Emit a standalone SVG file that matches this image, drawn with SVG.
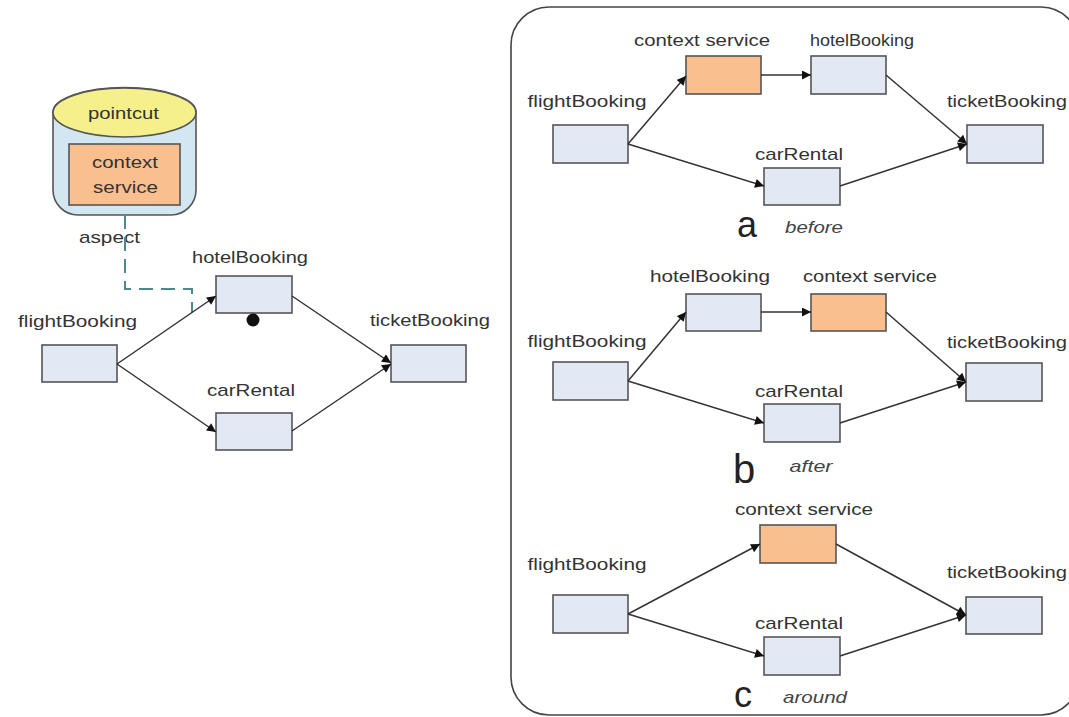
<svg xmlns="http://www.w3.org/2000/svg" width="1069" height="717" viewBox="0 0 1069 717">
<style>
text{font-family:"Liberation Sans",Arial,sans-serif;font-size:17px;fill:#333;text-anchor:middle}
.it{font-style:italic;fill:#444}
.big{font-size:36px;fill:#222}
.node{fill:#e3e8f5;stroke:#555;stroke-width:1.6}
.ctx{fill:#f9bf8f;stroke:#555;stroke-width:1.6}
.edge{fill:none;stroke:#333;stroke-width:1.5;marker-end:url(#arr)}
</style>
<defs>
<marker id="arr" viewBox="0 0 10 10" refX="10" refY="5" markerWidth="10" markerHeight="9" markerUnits="userSpaceOnUse" orient="auto"><path d="M0,0 L10,5 L0,10 z" fill="#111"/></marker>
</defs>
<rect x="0" y="0" width="1069" height="717" fill="#fff"/>

<!-- right panel frame -->
<rect id="panel" x="511" y="7" width="568" height="708" rx="38" ry="38" fill="none" stroke="#444" stroke-width="1.6"/>

<!-- LEFT diagram -->
<g id="aspect-cylinder">
<path d="M53,112 A71.5,24.5 0 0,1 196,112 V190 A25,25 0 0,1 171,215 H78 A25,25 0 0,1 53,190 Z" fill="#d3e7f3" stroke="#555" stroke-width="1.6"/>
<ellipse cx="124.5" cy="112.5" rx="71.5" ry="24.5" fill="#f5f08c" stroke="#555" stroke-width="1.6"/>
<text x="123.5" y="119" textLength="71" lengthAdjust="spacingAndGlyphs">pointcut</text>
<rect class="ctx" x="69" y="144" width="111" height="61"/>
<text x="125" y="168" textLength="66" lengthAdjust="spacingAndGlyphs">context</text>
<text x="125.5" y="193" textLength="65" lengthAdjust="spacingAndGlyphs">service</text>
</g>
<g id="aspect-label">
<text x="109.5" y="243" textLength="61" lengthAdjust="spacingAndGlyphs">aspect</text>
</g>
<g id="L-flightBooking">
<rect class="node" x="42" y="345" width="75" height="37"/>
<text x="77.5" y="327" textLength="119" lengthAdjust="spacingAndGlyphs">flightBooking</text>
</g>
<g id="L-hotelBooking">
<rect class="node" x="216" y="276" width="76" height="37"/>
<text x="250" y="263" textLength="116" lengthAdjust="spacingAndGlyphs">hotelBooking</text>
<circle cx="253" cy="320" r="6.5" fill="#111"/>
</g>
<g id="L-carRental">
<rect class="node" x="216" y="413" width="76" height="37"/>
<text x="251" y="396" textLength="88" lengthAdjust="spacingAndGlyphs">carRental</text>
</g>
<g id="L-ticketBooking">
<rect class="node" x="391" y="345" width="75" height="37"/>
<text x="430" y="326" textLength="120" lengthAdjust="spacingAndGlyphs">ticketBooking</text>
</g>

<!-- PANEL a -->
<g id="a-flightBooking"><rect class="node" x="553" y="125" width="75" height="38"/><text x="587" y="107" textLength="119" lengthAdjust="spacingAndGlyphs">flightBooking</text></g>
<g id="a-context"><rect class="ctx" x="686" y="56" width="75" height="38"/><text x="702" y="46" textLength="136" lengthAdjust="spacingAndGlyphs">context service</text></g>
<g id="a-hotelBooking"><rect class="node" x="811" y="56" width="75" height="38"/><text x="862" y="46" textLength="104" lengthAdjust="spacingAndGlyphs">hotelBooking</text></g>
<g id="a-carRental"><rect class="node" x="764" y="168" width="76" height="37"/><text x="799" y="160" textLength="88" lengthAdjust="spacingAndGlyphs">carRental</text></g>
<g id="a-ticketBooking"><rect class="node" x="967" y="125" width="76" height="38"/><text x="1007" y="107" textLength="120" lengthAdjust="spacingAndGlyphs">ticketBooking</text></g>
<g id="a-caption"><text class="big" x="747" y="237">a</text><text class="it" x="814" y="233" textLength="58" lengthAdjust="spacingAndGlyphs">before</text></g>

<!-- PANEL b -->
<g id="b-flightBooking"><rect class="node" x="553" y="362" width="75" height="38"/><text x="587" y="347" textLength="119" lengthAdjust="spacingAndGlyphs">flightBooking</text></g>
<g id="b-hotelBooking"><rect class="node" x="686" y="294" width="75" height="37"/><text x="710" y="282" textLength="120" lengthAdjust="spacingAndGlyphs">hotelBooking</text></g>
<g id="b-context"><rect class="ctx" x="811" y="294" width="75" height="37"/><text x="870" y="282" textLength="134" lengthAdjust="spacingAndGlyphs">context service</text></g>
<g id="b-carRental"><rect class="node" x="764" y="404" width="76" height="38"/><text x="799" y="397" textLength="88" lengthAdjust="spacingAndGlyphs">carRental</text></g>
<g id="b-ticketBooking"><rect class="node" x="966" y="363" width="76" height="38"/><text x="1007" y="348" textLength="120" lengthAdjust="spacingAndGlyphs">ticketBooking</text></g>
<g id="b-caption"><text class="big" x="744" y="483" style="font-size:40px">b</text><text class="it" x="811" y="472" textLength="43" lengthAdjust="spacingAndGlyphs">after</text></g>

<!-- PANEL c -->
<g id="c-flightBooking"><rect class="node" x="553" y="595" width="75" height="38"/><text x="587" y="570" textLength="119" lengthAdjust="spacingAndGlyphs">flightBooking</text></g>
<g id="c-context"><rect class="ctx" x="760" y="525" width="76" height="38"/><text x="804" y="515" textLength="138" lengthAdjust="spacingAndGlyphs">context service</text></g>
<g id="c-carRental"><rect class="node" x="764" y="637" width="76" height="38"/><text x="799" y="629" textLength="88" lengthAdjust="spacingAndGlyphs">carRental</text></g>
<g id="c-ticketBooking"><rect class="node" x="966" y="597" width="76" height="37"/><text x="1007" y="578" textLength="120" lengthAdjust="spacingAndGlyphs">ticketBooking</text></g>
<g id="c-caption"><text class="big" x="743" y="707">c</text><text class="it" x="815" y="703" textLength="64" lengthAdjust="spacingAndGlyphs">around</text></g>

<!-- CONNECTORS -->
<g id="connectors">
<path d="M125,215 V289 H192 V313" fill="none" stroke="#4a8a8e" stroke-width="2" stroke-dasharray="14,8"/>
<line class="edge" x1="117" y1="364" x2="216" y2="296"/>
<line class="edge" x1="117" y1="364" x2="216" y2="432"/>
<line class="edge" x1="292" y1="296" x2="391" y2="363"/>
<line class="edge" x1="292" y1="431" x2="391" y2="364"/>

<line class="edge" x1="628" y1="144" x2="686" y2="76"/>
<line class="edge" x1="761" y1="75" x2="811" y2="75"/>
<line class="edge" x1="886" y1="75" x2="967" y2="144"/>
<line class="edge" x1="628" y1="144" x2="764" y2="186"/>
<line class="edge" x1="840" y1="186" x2="967" y2="144"/>

<line class="edge" x1="628" y1="381" x2="686" y2="312"/>
<line class="edge" x1="761" y1="312" x2="811" y2="312"/>
<line class="edge" x1="886" y1="312" x2="966" y2="382"/>
<line class="edge" x1="628" y1="381" x2="764" y2="423"/>
<line class="edge" x1="840" y1="423" x2="966" y2="382"/>

<line class="edge" x1="628" y1="614" x2="760" y2="544"/>
<line class="edge" x1="836" y1="544" x2="966" y2="615"/>
<line class="edge" x1="628" y1="614" x2="764" y2="656"/>
<line class="edge" x1="840" y1="656" x2="966" y2="615"/>
</g>
</svg>
